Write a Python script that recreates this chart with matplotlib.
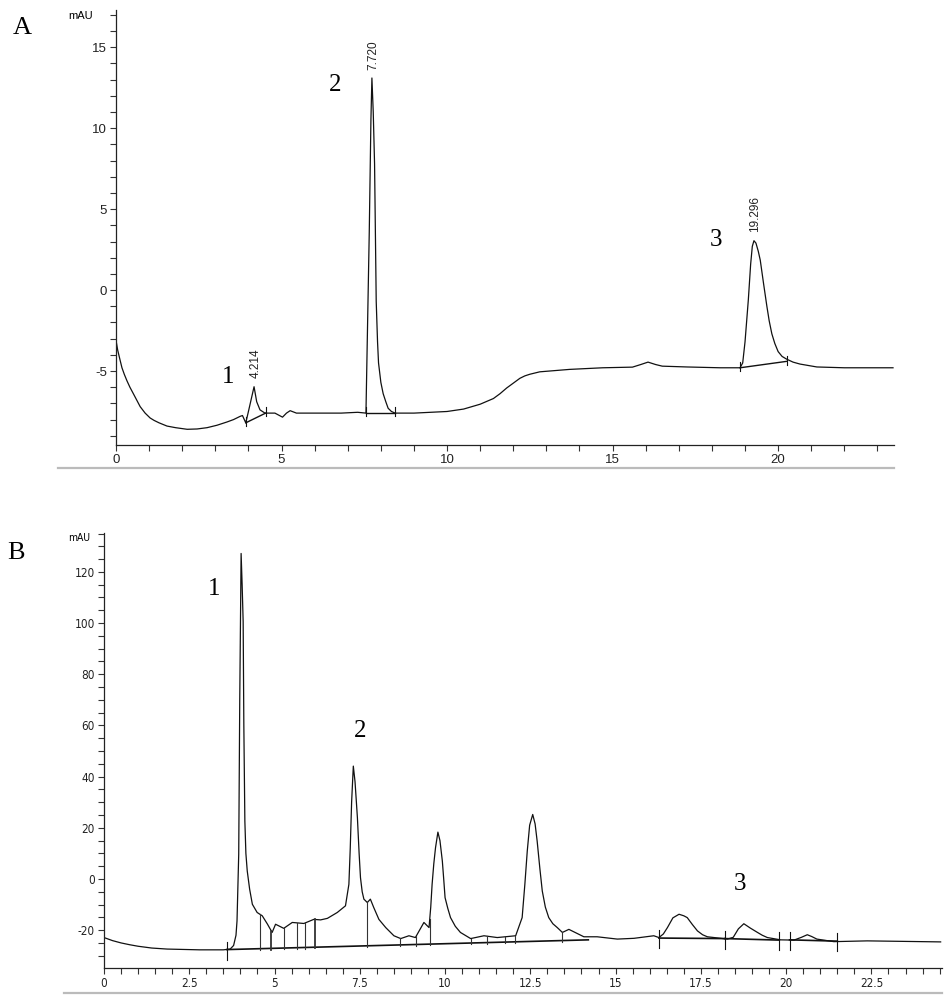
import numpy as np
import matplotlib
matplotlib.use("Agg")
import matplotlib.pyplot as plt
from matplotlib import font_manager
from matplotlib.lines import Line2D
from matplotlib.ticker import MultipleLocator

# ---------------- data: panel A ----------------
timeA = [0, 0.05, 0.12, 0.18, 0.25, 0.33, 0.42, 0.55, 0.73, 0.88, 1.03, 1.15, 1.3,
         1.54, 1.8, 2.15, 2.45, 2.75, 3.05, 3.35, 3.55, 3.75, 3.82,
         3.92, 4.0, 4.1, 4.17, 4.25, 4.35, 4.5, 4.8, 5.03, 5.15, 5.26, 5.45, 6.0,
         6.8, 7.3, 7.55, 7.6, 7.65, 7.7, 7.73, 7.77, 7.81, 7.86, 7.9, 7.93, 8.0,
         8.07, 8.15, 8.22, 8.32, 8.43, 9.0, 10.0, 10.5, 11.0, 11.4, 11.6, 11.8,
         12.0, 12.2, 12.35, 12.5, 12.8, 13.7, 14.7, 15.6, 15.85, 16.07, 16.3, 16.5,
         17.25, 18.25, 18.85, 18.93, 19.0, 19.1, 19.17, 19.22, 19.27, 19.33, 19.4,
         19.46, 19.56, 19.66, 19.73, 19.81, 19.9, 20.0, 20.12, 20.26, 20.45, 20.66,
         21.17, 22.0, 23.47]
signalA = [-3.1, -3.7, -4.3, -4.8, -5.2, -5.6, -6.0, -6.5, -7.2, -7.6, -7.9, -8.05,
           -8.2, -8.4, -8.5, -8.6, -8.58, -8.5, -8.35, -8.15, -8.0, -7.8, -7.75,
           -8.2, -7.5, -6.6, -5.97, -6.9, -7.4, -7.6, -7.6, -7.85, -7.6, -7.45,
           -7.6, -7.6, -7.6, -7.55, -7.6, -2.0, 3.6, 10.5, 13.1, 11.0, 7.8, -0.7,
           -3.2, -4.5, -5.7, -6.4, -6.9, -7.3, -7.5, -7.6, -7.6, -7.5, -7.35,
           -7.05, -6.7, -6.4, -6.05, -5.75, -5.45, -5.3, -5.2, -5.05, -4.9, -4.8,
           -4.76, -4.6, -4.45, -4.6, -4.7, -4.75, -4.8, -4.8, -4.5, -3.2, -0.6,
           1.6, 2.7, 3.05, 2.9, 2.4, 1.85, 0.4, -1.0, -1.9, -2.7, -3.3, -3.8, -4.1,
           -4.27, -4.45, -4.57, -4.75, -4.8, -4.8]
peakA_times = [4.17, 7.73, 19.27]
peakA_labels = ["4.214", "7.720", "19.296"]
baseA_start = [(3.92, -8.2), (7.55, -7.6), (18.85, -4.8)]
baseA_end = [(4.52, -7.6), (8.43, -7.6), (20.27, -4.4)]

# ---------------- data: panel B ----------------
timeB = [0, 0.25, 0.5, 0.75, 1.0, 1.4, 1.85, 2.8, 3.5, 3.7, 3.8, 3.87, 3.9, 3.95,
         3.98, 4.02, 4.05, 4.08, 4.1, 4.13, 4.16, 4.2, 4.27, 4.35, 4.49, 4.64,
         4.79, 4.93, 5.03, 5.27, 5.52, 5.86, 6.15, 6.35, 6.55, 6.84, 7.08, 7.18,
         7.22, 7.26, 7.31, 7.36, 7.4, 7.43, 7.48, 7.52, 7.57, 7.62, 7.72, 7.81,
         7.91, 8.06, 8.26, 8.5, 8.7, 8.94, 9.13, 9.38, 9.53, 9.58, 9.62, 9.67,
         9.72, 9.79, 9.85, 9.92, 9.96, 10.0, 10.08, 10.16, 10.3, 10.45, 10.75,
         11.14, 11.53, 12.07, 12.26, 12.34, 12.41, 12.48, 12.57, 12.64, 12.7,
         12.78, 12.85, 12.94, 13.04, 13.16, 13.29, 13.44, 13.63, 14.07, 14.46,
         15.05, 15.54, 16.12, 16.27, 16.4, 16.52, 16.68, 16.86, 17.0, 17.1, 17.25,
         17.4, 17.55, 17.69, 18.28, 18.45, 18.6, 18.76, 18.95, 19.16, 19.3, 19.45,
         19.84, 20.23, 20.45, 20.62, 20.75, 20.9, 21.4, 22.38, 24.53]
signalB = [-22.9, -24.1, -25.0, -25.7, -26.3, -27.0, -27.4, -27.7, -27.7, -27.4,
           -26.0, -22.0, -16.4, 9.7, 70.0, 127.2, 115.0, 100.6, 60.0, 22.6, 10.0,
           3.1, -4.0, -9.9, -13.1, -14.4, -17.6, -20.9, -17.7, -19.3, -17.0,
           -17.4, -15.8, -16.0, -15.4, -13.1, -10.5, -2.1, 12.0, 30.0, 44.1, 38.0,
           30.0, 23.9, 10.0, 0.5, -5.0, -7.9, -9.2, -7.9, -11.2, -15.8, -19.0,
           -22.2, -23.3, -22.2, -22.9, -17.0, -19.0, -11.0, -2.1, 6.0, 12.2, 18.3,
           15.0, 7.0, 0.0, -7.3, -11.5, -15.1, -18.5, -20.9, -23.3, -22.2, -22.9,
           -22.2, -15.1, -2.0, 10.9, 21.0, 25.2, 21.5, 14.8, 4.0, -4.7, -11.0,
           -15.1, -17.5, -19.0, -20.9, -19.7, -22.6, -22.6, -23.5, -23.2, -22.2,
           -22.9, -21.5, -19.0, -15.2, -13.8, -14.4, -15.1, -17.8, -20.3, -21.8,
           -22.6, -23.5, -22.8, -19.5, -17.5, -19.2, -20.9, -22.0, -22.9, -23.8,
           -23.9, -22.8, -21.8, -22.5, -23.5, -24.5, -24.2, -24.6]
baseB_start = [(3.6, -27.6), (16.27, -23.1), (18.2, -23.3), (20.1, -23.8)]
baseB_end = [(14.2, -23.8), (18.2, -23.3), (19.8, -23.9), (21.5, -24.3)]
dropB_times = [4.57, 4.9, 5.29, 5.65, 5.88, 6.18, 7.72, 8.67, 9.15, 9.55,
               10.76, 11.23, 11.75, 12.05, 13.42]
dropB_bold = [4.9, 6.18]
tickB_times = [3.6, 16.27, 18.2, 19.8, 20.1, 21.5]

xticksA = [0, 5, 10, 15, 20]
yticksA = [-5, 0, 5, 10, 15]
xticksB = [0, 2.5, 5, 7.5, 10, 12.5, 15, 17.5, 20, 22.5]
yticksB = [-20, 0, 20, 40, 60, 80, 100, 120]

# ---------------- fonts ----------------
def has_font(name):
    try:
        font_manager.findfont(font_manager.FontProperties(family=name),
                              fallback_to_default=False)
        return True
    except Exception:
        return False

sans = "Liberation Sans" if has_font("Liberation Sans") else "DejaVu Sans"
serif = "Liberation Serif" if has_font("Liberation Serif") else "DejaVu Serif"
narrow_fp = None
if has_font("Liberation Sans Narrow"):
    narrow_fp = dict(family="Liberation Sans Narrow")
else:
    try:
        f = font_manager.findfont(font_manager.FontProperties(family="DejaVu Sans",
                                                              stretch="condensed"))
        if "Condensed" in f:
            narrow_fp = dict(family="DejaVu Sans", stretch="condensed")
    except Exception:
        pass
if narrow_fp is None:
    narrow_fp = dict(family=sans)
plt.rcParams["axes.unicode_minus"] = False

W, H = 950, 1000
fig = plt.figure(figsize=(W / 100, H / 100), dpi=100)

def px_axes(l, t, r, b):
    return fig.add_axes([l / W, 1 - b / H, (r - l) / W, (b - t) / H])

axA = px_axes(116, 10, 894, 445)
axB = px_axes(104, 533, 942, 968)

lc = "#111111"

def style(ax, xlim, ylim, xt, yt, xminor, yminor, fp, tsize):
    ax.set_xlim(*xlim)
    ax.set_ylim(*ylim)
    for s in ("top", "right"):
        ax.spines[s].set_visible(False)
    for s in ("left", "bottom"):
        ax.spines[s].set_linewidth(0.9)
        ax.spines[s].set_color("#222222")
    ax.set_xticks(xt)
    ax.set_yticks(yt)
    ax.xaxis.set_minor_locator(MultipleLocator(xminor))
    ax.yaxis.set_minor_locator(MultipleLocator(yminor))
    ax.tick_params(which="both", direction="out", length=4.5, width=0.8,
                   color="#333333", pad=2)
    ax.set_xticklabels([("%g" % v) for v in xt])
    ax.set_yticklabels([("%g" % v) for v in yt])
    for lab in ax.get_xticklabels() + ax.get_yticklabels():
        lab.set_fontproperties(font_manager.FontProperties(size=tsize, **fp))
        lab.set_color("#222222")

# ---------------- panel A ----------------
style(axA, (0, 23.5), (-9.57, 17.3), xticksA, yticksA, 1, 1, dict(family=sans), 9.5)
axA.plot(timeA, signalA, color=lc, lw=0.9)
for (t0, y0), (t1, y1) in zip(baseA_start, baseA_end):
    axA.plot([t0, t1], [y0, y1], color=lc, lw=1.0)
    for t, y in ((t0, y0), (t1, y1)):
        axA.plot([t, t], [y - 0.2, y + 0.35], color=lc, lw=0.8)
for t, lab in zip(peakA_times, peakA_labels):
    yv = np.interp(t, timeA, signalA)
    axA.annotate(lab, (t, yv), xytext=(1, 6), textcoords="offset points",
                 rotation=90, ha="center", va="bottom", fontsize=8.5,
                 fontfamily=sans, color="#222222")
for lab, (tx, ty) in zip(["1", "2", "3"], [(3.38, -5.37), (6.62, 12.65), (18.13, 3.09)]):
    axA.text(tx, ty, lab, fontsize=18, fontfamily=serif, ha="center", va="center")

# ---------------- panel B ----------------
style(axB, (0, 24.57), (-34.8, 135.2), xticksB, yticksB, 0.5, 5, narrow_fp, 8.5)
axB.plot(timeB, signalB, color=lc, lw=0.9)
for (t0, y0), (t1, y1) in zip(baseB_start, baseB_end):
    axB.plot([t0, t1], [y0, y1], color=lc, lw=1.2)

def base_at(t):
    for (t0, y0), (t1, y1) in zip(baseB_start, baseB_end):
        if t0 <= t <= t1:
            return y0 + (y1 - y0) * (t - t0) / (t1 - t0)
    return np.interp(t, timeB, signalB)

for t in dropB_times:
    top = np.interp(t, timeB, signalB)
    bot = base_at(t)
    lw = 1.3 if t in dropB_bold else 0.8
    axB.plot([t, t], [bot - 0.5, top], color="#333333", lw=lw)
for t in tickB_times:
    yb = base_at(t)
    axB.plot([t, t], [yb - 4, yb + 3], color=lc, lw=0.8)
for lab, (tx, ty) in zip(["1", "2", "3"], [(3.24, 113.5), (7.5, 57.7), (18.66, -1.9)]):
    axB.text(tx, ty, lab, fontsize=18, fontfamily=serif, ha="center", va="center")

# ---------------- figure decorations ----------------
fig.text(68 / W, 1 - 16 / H, "mAU", fontsize=8, fontfamily=sans, va="center")
fig.text(68 / W, 1 - 538 / H, "mAU",
         fontproperties=font_manager.FontProperties(size=7.5, **narrow_fp), va="center")
fig.text(22 / W, 1 - 28 / H, "A", fontsize=19, fontfamily=serif, ha="center", va="center")
fig.text(16 / W, 1 - 553 / H, "B", fontsize=19, fontfamily=serif, ha="center", va="center")
fig.add_artist(Line2D([58 / W, 894 / W], [1 - 468 / H, 1 - 468 / H],
                      transform=fig.transFigure, color="#bbbbbb", lw=1.6))
fig.add_artist(Line2D([64 / W, 942 / W], [1 - 993 / H, 1 - 993 / H],
                      transform=fig.transFigure, color="#bbbbbb", lw=1.6))

fig.savefig("out.png", dpi=100)
